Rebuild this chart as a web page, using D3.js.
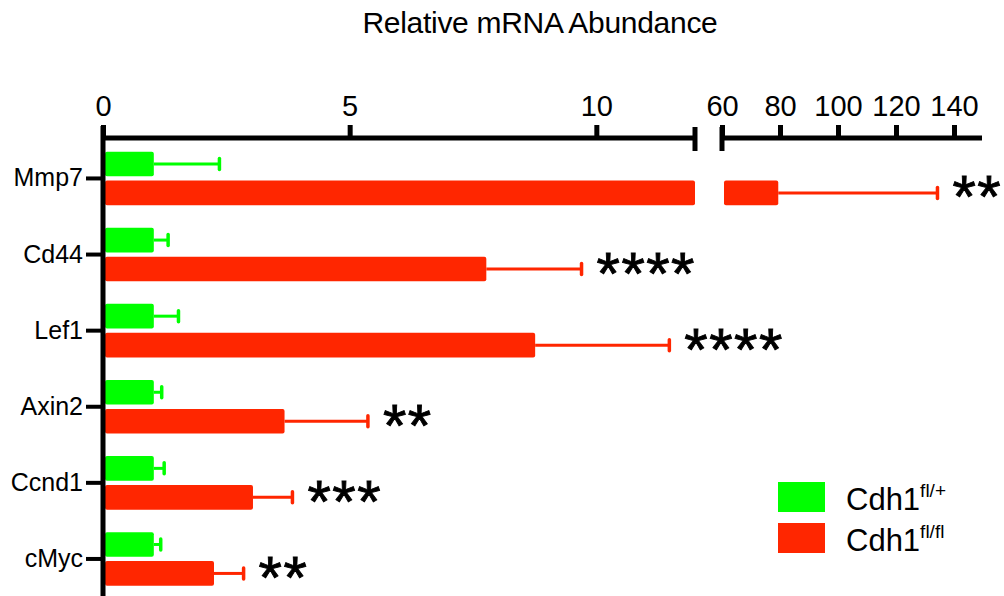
<!DOCTYPE html>
<html>
<head>
<meta charset="utf-8">
<script src="https://cdn.jsdelivr.net/npm/d3@7"></script>
<style>
  body { margin: 0; background: #fff; }
  svg { display: block; font-family: "Liberation Sans", Arial, sans-serif; }
</style>
</head>
<body>
<div id="chart"></div>
<script>
// values (relative to control)
var categories = ["Mmp7", "Cd44", "Lef1", "Axin2", "Ccnd1", "cMyc"],
    flPlusMean = [1.03, 1.03, 1.03, 1.03, 1.03, 1.03],
    flPlusSem = [1.33, 0.29, 0.50, 0.16, 0.21, 0.14],
    flFlMean = [79.4, 7.77, 8.76, 3.68, 3.04, 2.25],
    flFlSem = [54.9, 1.93, 2.72, 1.69, 0.80, 0.60],
    stars = ["**", "****", "****", "**", "***", "**"],
    seriesNames = ["Cdh1", "Cdh1"],
    seriesSup = ["fl/+", "fl/fl"],
    leftTicks = [0, 5, 10],
    rightTicks = [60, 80, 100, 120, 140];

var green = "#00ff00",
    red = "#ff2600",
    width = 1004,
    height = 596,
    axisY = 138;

var svg = d3.select("#chart").append("svg")
    .attr("width", width)
    .attr("height", height);

// broken x axis: two linear pieces
var xLeft = d3.scaleLinear().domain([0, 12]).range([103, 695]),
    xRight = d3.scaleLinear().domain([60, 150]).range([722, 983]);

var y = d3.scaleBand().domain(categories)
    .range([140.4, 597])
    .paddingInner(0.296)
    .paddingOuter(0.148);

var sub = d3.scaleBand().domain(["g", "r"])
    .range([0, y.bandwidth()])
    .paddingInner(0.15);

// title
svg.append("text")
    .attr("x", 540)
    .attr("y", 33)
    .attr("text-anchor", "middle")
    .style("font-size", "30px")
    .style("letter-spacing", "-0.3px")
    .text("Relative mRNA Abundance");

// bars
var rows = categories.map(function (c, i) {
    return { cat: c, gm: flPlusMean[i], gs: flPlusSem[i], rm: flFlMean[i], rs: flFlSem[i], star: stars[i] };
});

function barPieces(v) {
    // returns [x0, x1] pieces for the broken axis
    var pieces = [[xLeft(0) + 2, xLeft(Math.min(v, 12))]];
    if (v > 60) {
        pieces.push([xRight(60) + 2, xRight(v)]);
    }
    return pieces;
}

function xOf(v) {
    return v > 12 ? xRight(v) : xLeft(v);
}

var g = svg.append("g");

rows.forEach(function (d) {
    var gy = y(d.cat) + sub("g"),
        ry = y(d.cat) + sub("r"),
        bh = sub.bandwidth();

    [[d.gm, d.gs, gy, green], [d.rm, d.rs, ry, red]].forEach(function (s) {
        var mean = s[0], sem = s[1], top = s[2], col = s[3],
            mid = top + bh / 2,
            x0 = xOf(mean), x1 = xOf(mean + sem);

        g.append("line")
            .attr("x1", x0).attr("x2", x1)
            .attr("y1", mid).attr("y2", mid)
            .attr("stroke", col).attr("stroke-width", 3);
        g.append("line")
            .attr("x1", x1).attr("x2", x1)
            .attr("y1", mid - 5.5).attr("y2", mid + 5.5)
            .attr("stroke", col).attr("stroke-width", 3.5)
            .attr("stroke-linecap", "round");

        barPieces(mean).forEach(function (p) {
            g.append("rect")
                .attr("x", p[0])
                .attr("y", top)
                .attr("width", p[1] - p[0])
                .attr("height", bh)
                .attr("rx", 2)
                .attr("fill", col);
        });
    });

    // significance stars, centred on the red bar
    var st = g.append("text")
        .attr("x", xOf(d.rm + d.rs) + 15)
        .attr("y", 0)
        .style("font-size", "60px")
        .attr("stroke", "#000")
        .attr("stroke-width", 0.9)
        .style("letter-spacing", "1.5px")
        .text(d.star);
    var bb = st.node().getBBox();
    st.attr("y", ry + bh / 2 + 4 - (bb.y + bb.height / 2));
});

// x axis pieces
function styleAxis(sel) {
    sel.select(".domain").remove();
    sel.selectAll(".tick line").attr("stroke", "#000").attr("stroke-width", 5);
    sel.selectAll(".tick text").style("font-size", "29px").attr("fill", "#000").style("font-family", "inherit");
}

svg.append("g")
    .attr("transform", "translate(0," + axisY + ")")
    .call(d3.axisTop(xLeft).tickValues(leftTicks).tickFormat(d3.format("d")).tickSize(13).tickPadding(9))
    .call(styleAxis);

svg.append("g")
    .attr("transform", "translate(0," + axisY + ")")
    .call(d3.axisTop(xRight).tickValues(rightTicks).tickFormat(d3.format("d")).tickSize(13).tickPadding(9))
    .call(styleAxis);

[[xLeft.range()[0] - 2, xLeft.range()[1]], [xRight.range()[0], xRight.range()[1] - 1]].forEach(function (r) {
    svg.append("line")
        .attr("x1", r[0]).attr("x2", r[1])
        .attr("y1", axisY).attr("y2", axisY)
        .attr("stroke", "#000").attr("stroke-width", 5);
});

// end caps at the break
[xLeft(12), xRight(60)].forEach(function (cx) {
    svg.append("line")
        .attr("x1", cx).attr("x2", cx)
        .attr("y1", axisY - 11).attr("y2", axisY + 13)
        .attr("stroke", "#000").attr("stroke-width", 5);
});

// y axis
svg.append("line")
    .attr("x1", xLeft(0)).attr("x2", xLeft(0))
    .attr("y1", axisY - 12).attr("y2", height + 5)
    .attr("stroke", "#000").attr("stroke-width", 5);

svg.append("g")
    .attr("transform", "translate(" + xLeft(0) + ",0)")
    .call(d3.axisLeft(y).tickSize(17).tickPadding(3))
    .call(function (sel) {
        sel.select(".domain").remove();
        sel.selectAll(".tick line").attr("stroke", "#000").attr("stroke-width", 4);
        sel.selectAll(".tick text").style("font-size", "25px").attr("fill", "#000").style("font-family", "inherit");
    });

// legend
var leg = svg.append("g").attr("transform", "translate(778,482)");
seriesNames.forEach(function (n, i) {
    var row = leg.append("g").attr("transform", "translate(0," + (i * 41) + ")");
    row.append("rect")
        .attr("width", 47).attr("height", 30)
        .attr("fill", i === 0 ? green : red);
    var t = row.append("text")
        .attr("x", 68).attr("y", 28)
        .style("font-size", "31px")
        .text(n);
    t.append("tspan")
        .attr("dy", -13)
        .style("font-size", "19px")
        .text(seriesSup[i]);
});
</script>
</body>
</html>
